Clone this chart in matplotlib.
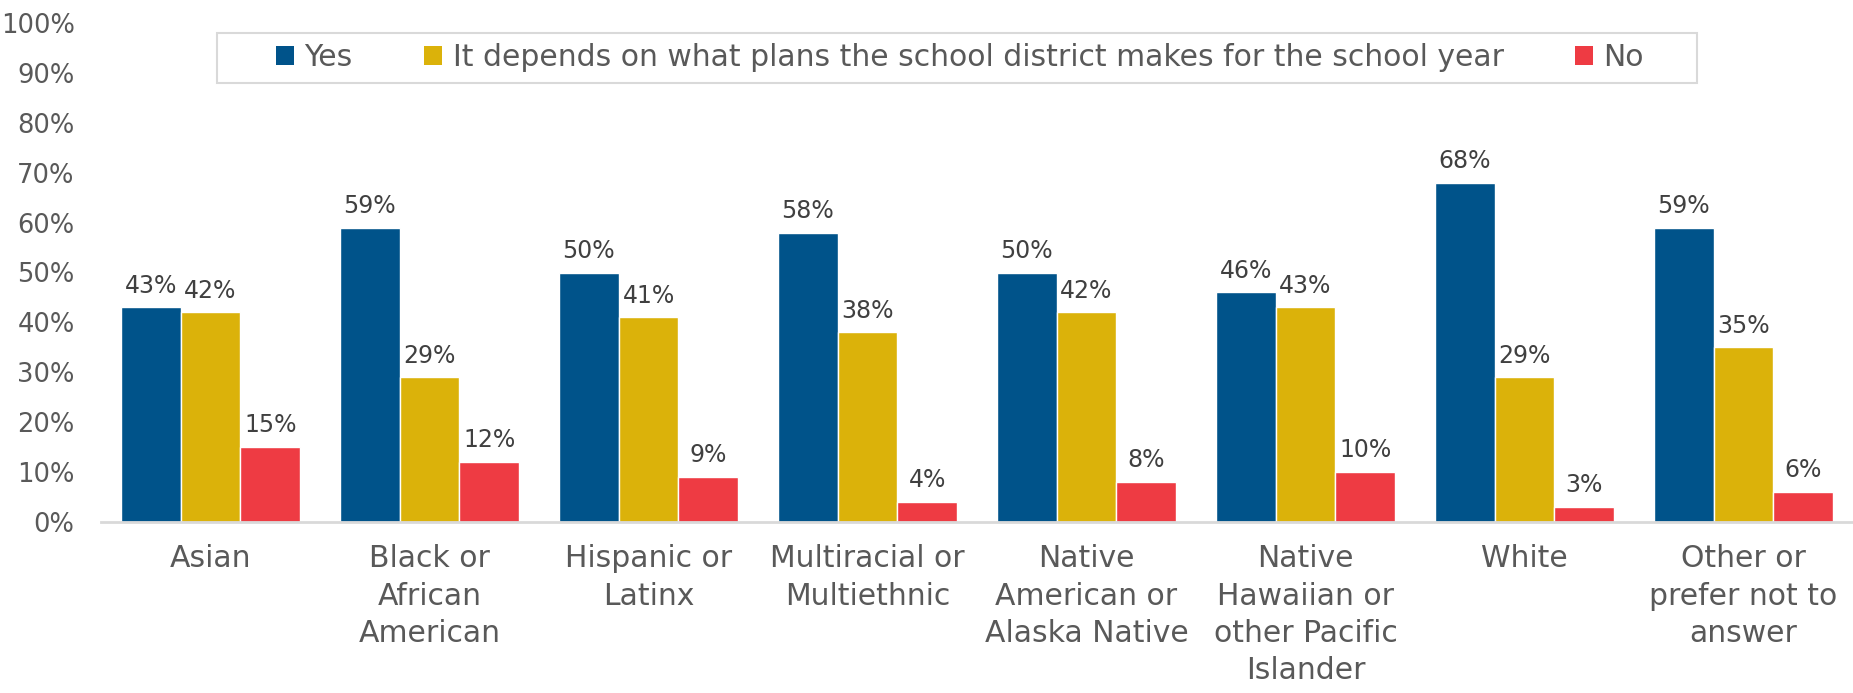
import matplotlib.pyplot as plt
from matplotlib.patches import Patch, Rectangle
from matplotlib.ticker import FuncFormatter
import numpy as np

# Data
categories = ["Asian", "Black or\nAfrican\nAmerican", "Hispanic or\nLatinx",
              "Multiracial or\nMultiethnic", "Native\nAmerican or\nAlaska Native",
              "Native\nHawaiian or\nother Pacific\nIslander", "White",
              "Other or\nprefer not to\nanswer"]
series_names = ["Yes",
                "It depends on what plans the school district makes for the school year",
                "No"]
yes_vals = [43, 59, 50, 58, 50, 46, 68, 59]
depends_vals = [42, 29, 41, 38, 42, 43, 29, 35]
no_vals = [15, 12, 9, 4, 8, 10, 3, 6]

colors = ["#00538A", "#DBB20A", "#EE3B43"]
text_grey = "#595959"
label_grey = "#404040"

plt.rcParams['font.family'] = ['DejaVu Sans']

fig = plt.figure(figsize=(18.53, 6.93), dpi=100)
ax = fig.add_axes([101 / 1853, 171 / 693, 1752 / 1853, 499 / 693])

x = np.arange(len(categories))
w = 0.2726
for k, vals in enumerate([yes_vals, depends_vals, no_vals]):
    pos = x + (k - 1) * w
    ax.bar(pos, vals, width=w, color=colors[k], edgecolor="white", linewidth=1,
           label=series_names[k])
    for px, v in zip(pos, vals):
        ax.annotate(f"{v}%", (px, v), xytext=(0, 7), textcoords="offset points",
                    ha="center", va="bottom", fontsize=17, color=label_grey)

ax.set_xlim(-0.5, len(categories) - 0.5)
ax.set_ylim(0, 100)
ax.set_yticks(range(0, 101, 10))
ax.yaxis.set_major_formatter(FuncFormatter(lambda v, p: f"{v:.0f}%"))
ax.set_xticks(x)
ax.set_xticklabels(categories)
ax.tick_params(axis="y", length=0, pad=19, labelsize=18.5, labelcolor=text_grey)
ax.tick_params(axis="x", length=0, pad=16, labelsize=21.5, labelcolor=text_grey)
for t in ax.get_xticklabels():
    t.set_linespacing(1.36)

for s in ["top", "right", "left"]:
    ax.spines[s].set_visible(False)
ax.spines["bottom"].set_color("#D9D9D9")
ax.spines["bottom"].set_linewidth(2)

# legend box
fig.patches.append(Rectangle((217 / 1853, 1 - 83 / 693), 1480 / 1853, 50 / 693,
                             transform=fig.transFigure, facecolor="white",
                             edgecolor="#D9D9D9", linewidth=1.5))
handles = [Patch(facecolor=c, edgecolor="none") for c in colors]
fig.legend(handles, series_names, loc="center", bbox_to_anchor=(960 / 1853, 1 - 58 / 693),
           ncol=3, frameon=False, fontsize=21.5, labelcolor=text_grey,
           handlelength=0.6, handleheight=0.6, handletextpad=0.35, columnspacing=2.4)

fig.savefig("out.png", dpi=100)
